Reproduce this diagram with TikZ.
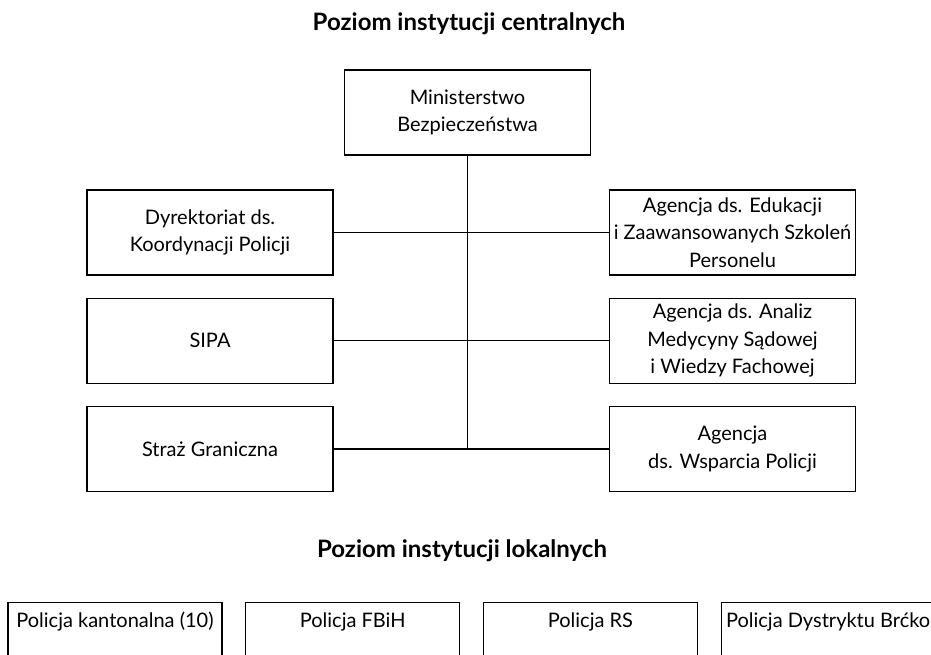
\documentclass[tikz,border=0pt]{standalone}
\usepackage{fontspec}
\setmainfont{Lato}
\usetikzlibrary{positioning}
\tikzset{
  inst/.style={rectangle, draw, line width=1.2pt, minimum width=246pt,
    minimum height=85pt, inner sep=0pt, align=center,
    font=\fontsize{20}{27.5}\selectfont},
  loc/.style={rectangle, draw, line width=1.2pt, minimum width=214pt,
    inner sep=0pt, anchor=north, text height=25pt, text depth=60pt,
    font=\fontsize{20}{27.5}\selectfont},
  lvl/.style={anchor=base, font=\fontsize{24}{28}\selectfont\bfseries},
  link/.style={line width=1.2pt}
}

\begin{document}
\begin{tikzpicture}[x=1pt, y=-1pt, node distance=22pt and 22.5pt]
  \clip (0,0) rectangle (931,655);
  % central level
  \node[lvl] (tcen) at (469,31) {Poziom instytucji centralnych};
  \node[inst] (min) at (467.5,112.5) {Ministerstwo\\Bezpieczeństwa};
  \node[inst] (dyr) at (210,232.5) {Dyrektoriat ds.\\Koordynacji Policji};
  \node[inst, below=of dyr] (sipa) {SIPA};
  \node[inst, below=of sipa] (straz) {Straż Graniczna};
  \node[inst] (edu) at (732.5,232.5) {Agencja ds. Edukacji\\i Zaawansowanych Szkoleń\\Personelu};
  \node[inst, below=of edu] (med) {Agencja ds. Analiz\\Medycyny Sądowej\\i Wiedzy Fachowej};
  \node[inst, below=of med] (wsp) {Agencja\\ds. Wsparcia Policji};
  \draw[link] (min) -- (min |- straz);
  \draw[link] (dyr) -- (edu);
  \draw[link] (sipa) -- (med);
  \draw[link] (straz) -- (wsp);
  % local level
  \node[lvl] (tlok) at (462,557) {Poziom instytucji lokalnych};
  \node[loc] (kant) at (115,602) {Policja kantonalna (10)};
  \node[loc, right=of kant.north east, anchor=north west] (fbih) {Policja FBiH};
  \node[loc, right=of fbih.north east, anchor=north west] (rs) {Policja RS};
  \node[loc, right=of rs.north east, anchor=north west] (brc) {Policja Dystryktu Brćko};
\end{tikzpicture}
\end{document}
